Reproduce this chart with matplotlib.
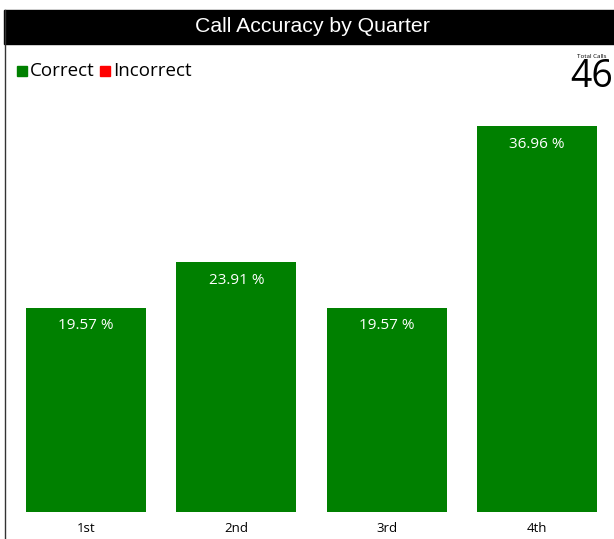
import matplotlib.pyplot as plt
from matplotlib.patches import Rectangle

quarters = ['1st', '2nd', '3rd', '4th']
correct_pct = [19.57, 23.91, 19.57, 36.96]
total_calls = 46
legend_items = ['Correct', 'Incorrect']
legend_colors = ['#008000', '#ff0000']

W, H = 614, 539
fig = plt.figure(figsize=(W / 100, H / 100), dpi=100)

# header bar + left border
fig.patches.append(Rectangle((4 / W, 1 - 44 / H), 1 - 4 / W, 34 / H,
                             transform=fig.transFigure, color='black', zorder=0))
fig.add_artist(plt.Line2D([4.5 / W, 4.5 / W], [0, 1 - 10 / H], transform=fig.transFigure,
                          color='#333333', lw=1))
fig.text(312 / W, 1 - 27 / H, 'Call Accuracy by Quarter', color='white', fontsize=15.3,
         family='Liberation Sans', ha='center', va='center')

# legend
x = 17
for lab, col in zip(legend_items, legend_colors):
    fig.patches.append(Rectangle((x / W, 1 - 76 / H), 10 / W, 10 / H,
                                 transform=fig.transFigure, color=col))
    fig.text((x + 13) / W, 1 - 71 / H, lab, fontsize=13.5, family='Open Sans',
             ha='left', va='center')
    x += 83

fig.text(592 / W, 1 - 56 / H, 'Total Calls', fontsize=4.5, family='Open Sans',
         ha='center', va='center')
fig.text(592 / W, 1 - 77 / H, str(total_calls), fontsize=27, family='Open Sans',
         ha='center', va='center')

ax = fig.add_axes([11 / W, 27 / H, 601 / W, 412 / H])
bars = ax.bar(range(len(quarters)), correct_pct, width=0.8, color='#008000')
ax.set_xlim(-0.5, 3.5)
ax.set_ylim(0, 412 / 10.44)
for b, v in zip(bars, correct_pct):
    ax.annotate(f'{v:.2f} %', (b.get_x() + b.get_width() / 2, v), xytext=(0, -13),
                textcoords='offset points', ha='center', va='center', color='white',
                fontsize=11, family='Open Sans')
ax.set_xticks(range(len(quarters)))
ax.set_xticklabels(quarters, fontsize=9.5, family='Open Sans')
ax.tick_params(length=0, pad=7)
ax.set_yticks([])
for s in ax.spines.values():
    s.set_visible(False)

fig.savefig('out.png', dpi=100)
